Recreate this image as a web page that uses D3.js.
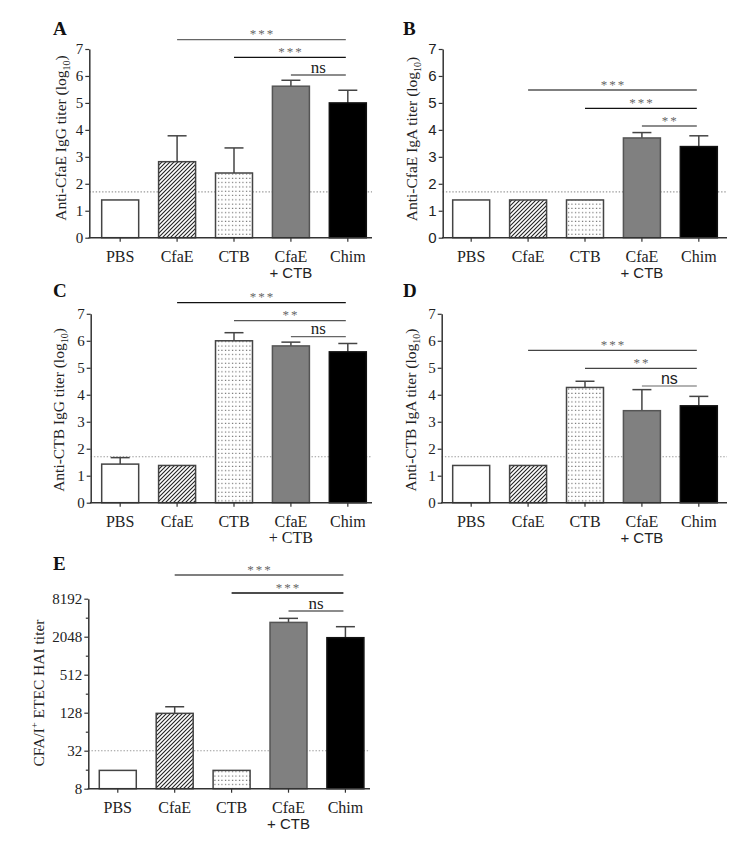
<!DOCTYPE html>
<html>
<head>
<meta charset="utf-8">
<script src="https://cdn.jsdelivr.net/npm/d3@7"></script>
<style>
  body { margin: 0; background: #fff; }
  svg { display: block; }
</style>
</head>
<body>
<script>
// ---------------- DATA ----------------
const categories = ["PBS", "CfaE", "CTB", "CfaE + CTB", "Chim"];

const A_means = [1.40, 2.82, 2.40, 5.62, 5.00];
const A_errs  = [0,    0.96, 0.93, 0.22, 0.47];
const B_means = [1.40, 1.40, 1.40, 3.70, 3.38];
const B_errs  = [0,    0,    0,    0.20, 0.40];
const C_means = [1.43, 1.38, 6.00, 5.81, 5.59];
const C_errs  = [0.24, 0,    0.30, 0.14, 0.31];
const D_means = [1.38, 1.38, 4.27, 3.41, 3.59];
const D_errs  = [0,    0,    0.23, 0.78, 0.35];
const E_means = [15.6, 125,  15.6, 3450, 1975];
const E_errs  = [0,    34,   0,    550,  975];

const logTicks = [0, 1, 2, 3, 4, 5, 6, 7];
const haiTicks = [8, 32, 128, 512, 2048, 8192];
const haiMinorTicks = [16, 64, 256, 1024, 4096];

const logThreshold = 1.7;
const haiThreshold = 32;

const comparisons = [["CfaE", "Chim"], ["CTB", "Chim"], ["CfaE + CTB", "Chim"]];
const A_sig = ["***", "***", "ns"];
const B_sig = ["***", "***", "**"];
const C_sig = ["***", "**", "ns"];
const D_sig = ["***", "**", "ns"];
const E_sig = ["***", "***", "ns"];

// ---------------- STYLE / LAYOUT ----------------
const SERIF = "'Liberation Serif', 'Times New Roman', serif";
const SANS = "'Liberation Sans', Arial, sans-serif";
const fills = ["#ffffff", "url(#hatch)", "url(#dots)", "#808080", "#000000"];
const strokes = ["#444", "#444", "#444", "#555", "#111"];

const svg = d3.select("body").append("svg")
  .attr("width", 750).attr("height", 859);

const defs = svg.append("defs");
const hatch = defs.append("pattern").attr("id", "hatch")
  .attr("patternUnits", "userSpaceOnUse").attr("width", 4).attr("height", 4);
hatch.append("rect").attr("width", 4).attr("height", 4).attr("fill", "#fff");
hatch.append("path").attr("d", "M-1,1 l2,-2 M0,4 l4,-4 M3,5 l2,-2")
  .attr("stroke", "#222").attr("stroke-width", 1.1);
const dots = defs.append("pattern").attr("id", "dots")
  .attr("patternUnits", "userSpaceOnUse").attr("width", 3.5).attr("height", 4.3);
dots.append("rect").attr("width", 3.5).attr("height", 4.3).attr("fill", "#fff");
dots.append("rect").attr("x", 1).attr("y", 1.5).attr("width", 1).attr("height", 1).attr("fill", "#333");

const panels = [
  { letter: "A", lx: 53, ly: 35, axisX: 89.3, axisEnd: 372, xRange: [96, 372],
    yBottom: 237.7, yTop: 49, type: "lin", means: A_means, errs: A_errs,
    tickFont: SERIF, plusFont: SANS, nsFont: SERIF,
    ylab: ["Anti-CfaE IgG titer (log", "10", ")"], ylx: 61, lly: 138,
    sig: A_sig, sigY: [39.7, 57.3, 75], sigColor: ["#666", "#111", "#666"] },
  { letter: "B", lx: 403, ly: 35, axisX: 442.7, axisEnd: 727, xRange: [447, 723],
    yBottom: 237.7, yTop: 49, type: "lin", means: B_means, errs: B_errs,
    tickFont: SANS, plusFont: SANS, nsFont: SERIF,
    ylab: ["Anti-CfaE IgA titer (log", "10", ")"], ylx: 412, lly: 139,
    sig: B_sig, sigY: [90, 108.3, 126], sigColor: ["#555", "#111", "#666"] },
  { letter: "C", lx: 53, ly: 297, axisX: 90.7, axisEnd: 372, xRange: [96, 372],
    yBottom: 502.7, yTop: 313.8, type: "lin", means: C_means, errs: C_errs,
    tickFont: SERIF, plusFont: SERIF, nsFont: SERIF,
    ylab: ["Anti-CTB IgG titer (log", "10", ")"], ylx: 59, lly: 410,
    sig: C_sig, sigY: [302.7, 320.7, 336.7], sigColor: ["#111", "#555", "#666"] },
  { letter: "D", lx: 403, ly: 297, axisX: 441.7, axisEnd: 727, xRange: [447, 723],
    yBottom: 502.7, yTop: 313.8, type: "lin", means: D_means, errs: D_errs,
    tickFont: SERIF, plusFont: SANS, nsFont: SANS,
    ylab: ["Anti-CTB  IgA titer (log", "10", ")"], ylx: 411, lly: 410,
    sig: D_sig, sigY: [350.3, 368.3, 386], sigColor: ["#444", "#444", "#999"] },
  { letter: "E", lx: 53, ly: 570, axisX: 88.3, axisEnd: 370, xRange: [93.6, 369.6],
    yBottom: 788.7, yTop: 598.7, type: "log", means: E_means, errs: E_errs,
    tickFont: SERIF, plusFont: SANS, nsFont: SERIF,
    ylab: null, ylx: 39, lly: 693,
    sig: E_sig, sigY: [575, 593, 611], sigColor: ["#555", "#111", "#666"] }
];

function drawPanel(p) {
  const g = svg.append("g");
  const x = d3.scaleBand().domain(categories).range(p.xRange)
    .paddingInner(0.35).paddingOuter(0.1);
  const bw = x.bandwidth();
  let y, ticks, thr;
  if (p.type === "lin") {
    y = d3.scaleLinear().domain([0, 7]).range([p.yBottom, p.yTop]);
    ticks = logTicks; thr = logThreshold;
  } else {
    y = d3.scaleLog().base(2).domain([8, 8192]).range([p.yBottom, p.yTop]);
    ticks = haiTicks; thr = haiThreshold;
  }
  const base = p.type === "lin" ? 0 : 8;

  // panel letter
  g.append("text").attr("x", p.lx).attr("y", p.ly)
    .attr("font-family", SERIF).attr("font-weight", "bold").attr("font-size", 19)
    .attr("fill", "#111").text(p.letter);

  // threshold dotted line
  g.append("line")
    .attr("x1", p.axisX).attr("x2", p.axisEnd)
    .attr("y1", y(thr)).attr("y2", y(thr))
    .attr("stroke", "#999").attr("stroke-width", 1.1)
    .attr("stroke-dasharray", "1.4,1.8");

  // error bars (upper only)
  categories.forEach((c, i) => {
    const e = p.errs[i];
    if (!e) return;
    const cx = x(c) + bw / 2;
    const top = y(p.means[i] + e);
    g.append("line").attr("x1", cx).attr("x2", cx)
      .attr("y1", y(p.means[i])).attr("y2", top)
      .attr("stroke", "#444").attr("stroke-width", 1.5);
    g.append("line").attr("x1", cx - 9.5).attr("x2", cx + 9.5)
      .attr("y1", top).attr("y2", top)
      .attr("stroke", "#444").attr("stroke-width", 1.5);
  });

  // bars
  g.selectAll("rect.bar").data(categories).enter().append("rect")
    .attr("class", "bar")
    .attr("x", c => x(c))
    .attr("y", (c, i) => y(p.means[i]))
    .attr("width", bw)
    .attr("height", (c, i) => y(base) - y(p.means[i]))
    .attr("fill", (c, i) => fills[i])
    .attr("stroke", (c, i) => strokes[i])
    .attr("stroke-width", 1.5);

  // y axis
  const yAxis = d3.axisLeft(y).tickValues(ticks).tickSize(4).tickSizeOuter(0)
    .tickPadding(2).tickFormat(d => d);
  const ya = g.append("g").attr("transform", `translate(${p.axisX},0)`).call(yAxis);
  ya.select(".domain").attr("stroke", "#333").attr("stroke-width", 1.5);
  ya.selectAll(".tick line").attr("stroke", "#333").attr("stroke-width", 1.2);
  ya.selectAll(".tick text").attr("font-family", p.tickFont).attr("font-size", 15)
    .attr("fill", "#222");
  if (p.type === "log") {
    const ym = d3.axisLeft(y).tickValues(haiMinorTicks).tickSize(2.5)
      .tickSizeOuter(0).tickFormat("");
    const ymg = g.append("g").attr("transform", `translate(${p.axisX},0)`).call(ym);
    ymg.select(".domain").remove();
    ymg.selectAll(".tick line").attr("stroke", "#333").attr("stroke-width", 1.2);
  }

  // x axis
  g.append("line").attr("x1", p.axisX - 0.75).attr("x2", p.axisEnd)
    .attr("y1", p.yBottom).attr("y2", p.yBottom)
    .attr("stroke", "#333").attr("stroke-width", 1.5);
  const xAxis = d3.axisBottom(x).tickSize(4).tickSizeOuter(0).tickFormat("");
  const xa = g.append("g").attr("transform", `translate(0,${p.yBottom})`).call(xAxis);
  xa.select(".domain").remove();
  xa.selectAll(".tick line").attr("stroke", "#333").attr("stroke-width", 1.2);

  categories.forEach(c => {
    const parts = c.split(" + ");
    const cx = x(c) + bw / 2;
    g.append("text").attr("x", cx).attr("y", p.yBottom + 24)
      .attr("text-anchor", "middle").attr("font-family", SERIF)
      .attr("font-size", 16).attr("fill", "#222").text(parts[0]);
    if (parts[1]) {
      g.append("text").attr("x", cx).attr("y", p.yBottom + 40)
        .attr("text-anchor", "middle").attr("font-family", p.plusFont)
        .attr("font-size", p.plusFont === SANS ? 15 : 16).attr("fill", "#222")
        .text("+ " + parts[1]);
    }
  });

  // y axis label
  const yl = g.append("text")
    .attr("transform", `translate(${p.ylx},${p.lly}) rotate(-90)`)
    .attr("text-anchor", "middle").attr("dy", "0.35em")
    .attr("font-family", SERIF).attr("font-size", 15.5).attr("fill", "#222");
  if (p.ylab) {
    yl.append("tspan").text(p.ylab[0]);
    yl.append("tspan").attr("font-size", 10).attr("dy", 4).text(p.ylab[1]);
    yl.append("tspan").attr("dy", -4).text(p.ylab[2]);
  } else {
    yl.append("tspan").text("CFA/I");
    yl.append("tspan").attr("font-size", 10).attr("dy", -6).text("+");
    yl.append("tspan").attr("dy", 6).text(" ETEC HAI titer");
  }

  // significance brackets
  comparisons.forEach((pair, i) => {
    const x1 = x(pair[0]) + bw / 2;
    const x2 = x(pair[1]) + bw / 2 - 2;
    const yy = p.sigY[i];
    g.append("line").attr("x1", x1).attr("x2", x2).attr("y1", yy).attr("y2", yy)
      .attr("stroke", p.sigColor[i]).attr("stroke-width", 1.3);
    const lab = p.sig[i];
    const isNs = lab === "ns";
    g.append("text").attr("x", (x1 + x2) / 2 + (isNs ? 0 : 1)).attr("y", isNs ? yy - 2.5 : yy - 1.5)
      .attr("text-anchor", "middle")
      .attr("font-family", isNs ? p.nsFont : SERIF)
      .attr("font-size", isNs ? (p.nsFont === SANS ? 16 : 17) : 13)
      .attr("letter-spacing", isNs ? 0 : 2)
      .attr("fill", isNs ? "#222" : "#666")
      .text(lab);
  });
}

panels.forEach(drawPanel);
</script>
</body>
</html>
